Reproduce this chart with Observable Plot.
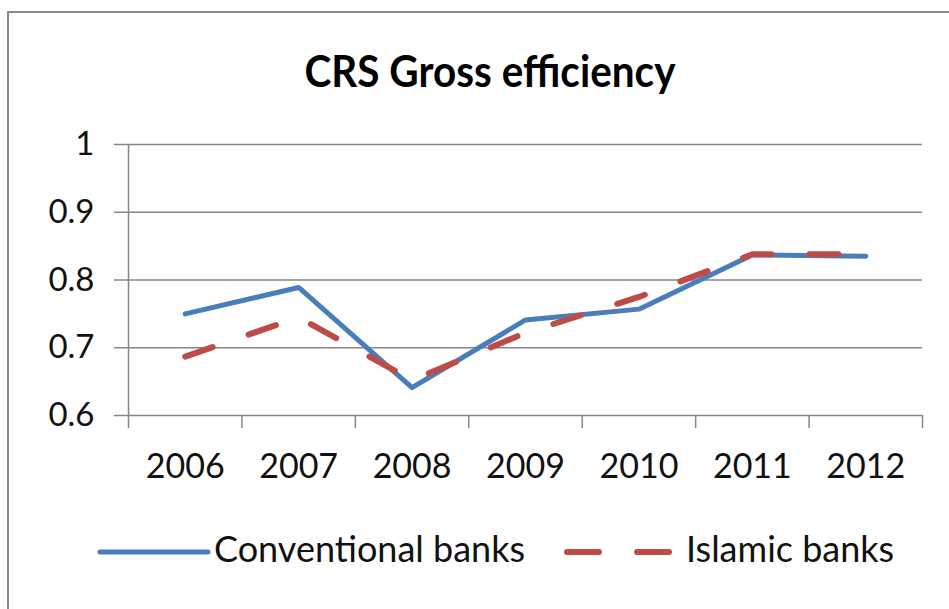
<!DOCTYPE html>
<html>
<head>
<meta charset="utf-8">
<script src="https://cdn.jsdelivr.net/npm/d3@7"></script>
<script src="https://cdn.jsdelivr.net/npm/@observablehq/plot@0.6"></script>
<style>
  html, body { margin: 0; padding: 0; background: #fff; }
  body { width: 949px; height: 609px; overflow: hidden; position: relative; font-family: Lato, "Open Sans", sans-serif; }
  #frame { position: absolute; left: 7px; top: 11px; width: 980px; height: 640px; border: 2px solid #8a8a8a; box-sizing: border-box; }
  #title { position: absolute; left: 0; width: 980px; top: 48px; line-height: 44px; text-align: center; font-weight: bold; font-size: 44px; color: #000; transform: scaleX(0.92); transform-origin: 490px 0; }
  #chart { position: absolute; left: 0; top: 0; }
  #legend { position: absolute; left: 0; top: 0; width: 949px; height: 609px; pointer-events: none; }
  .swatch { position: absolute; top: 546px; }
  .label { position: absolute; top: 530px; line-height: 36px; font-size: 36px; color: #111; white-space: nowrap; }
</style>
</head>
<body>
<div id="frame"></div>
<div id="chart"></div>
<div id="title">CRS Gross efficiency</div>
<div id="legend"></div>
<script>
// Efficiency scores per year
const years = ["2006", "2007", "2008", "2009", "2010", "2011", "2012"];
const conventional = [0.750, 0.789, 0.641, 0.741, 0.757, 0.837, 0.835];
const islamic = [0.687, 0.745, 0.652, 0.722, 0.775, 0.838, 0.838];
const yTicks = [0.6, 0.7, 0.8, 0.9, 1];

const seriesNames = ["Conventional banks", "Islamic banks"];
const seriesColors = ["#4a7ebb", "#be4b48"];

// Long-format rows; x is the category slot centre (i + 0.5)
const rows = [];
years.forEach((yr, i) => {
  rows.push({ year: yr, pos: i + 0.5, value: conventional[i], series: seriesNames[0] });
  rows.push({ year: yr, pos: i + 0.5, value: islamic[i], series: seriesNames[1] });
});
const centres = years.map((_, i) => i + 0.5);
const bounds = d3.range(0, years.length + 1);

const chart = Plot.plot({
  width: 949,
  height: 500,
  marginLeft: 128,
  marginRight: 27,
  marginTop: 144,
  marginBottom: 85,
  style: { fontFamily: "Lato, 'Open Sans', sans-serif", color: "#111", background: "transparent", overflow: "visible" },
  x: { domain: [0, years.length] },
  y: { domain: [0.6, 1] },
  marks: [
    Plot.gridY(yTicks, { stroke: "#868686", strokeOpacity: 1, strokeWidth: 1.5 }),
    Plot.ruleX([0], { stroke: "#868686", strokeWidth: 1.5 }),
    Plot.axisY(yTicks, { tickSize: 14, tickPadding: 20, stroke: "#868686", strokeWidth: 1.5, fontSize: 33, tickFormat: d => String(d), label: null }),
    Plot.axisX(bounds, { tickSize: 13, tickFormat: () => "", stroke: "#868686", strokeWidth: 1.5, label: null }),
    Plot.axisX(centres, { tickSize: 0, tickPadding: 38, fontSize: 34, tickFormat: d => years[Math.floor(d)], label: null }),
    Plot.line(rows.filter(d => d.series === seriesNames[0]), { x: "pos", y: "value", stroke: seriesColors[0], strokeWidth: 5, strokeLinejoin: "round", strokeLinecap: "round" }),
    Plot.line(rows.filter(d => d.series === seriesNames[1]), { x: "pos", y: "value", stroke: seriesColors[1], strokeWidth: 6, strokeDasharray: "29,38", strokeLinejoin: "round", strokeLinecap: "round" })
  ]
});
document.getElementById("chart").appendChild(chart);

// Legend built from the same series names and colours
const legend = document.getElementById("legend");
const swatchLeft = [96, 563];
const labelLeft = [214, 686];
seriesNames.forEach((name, i) => {
  const sw = d3.create("svg").attr("class", "swatch").attr("width", 116).attr("height", 12)
    .style("left", swatchLeft[i] + "px");
  sw.append("line").attr("x1", 4).attr("x2", 112).attr("y1", 6).attr("y2", 6)
    .attr("stroke", seriesColors[i]).attr("stroke-width", i ? 6 : 5)
    .attr("stroke-linecap", "round")
    .attr("stroke-dasharray", i ? "32,38" : null);
  legend.appendChild(sw.node());
  const label = document.createElement("div");
  label.className = "label";
  label.style.left = labelLeft[i] + "px";
  label.textContent = name;
  legend.appendChild(label);
});
</script>
</body>
</html>
